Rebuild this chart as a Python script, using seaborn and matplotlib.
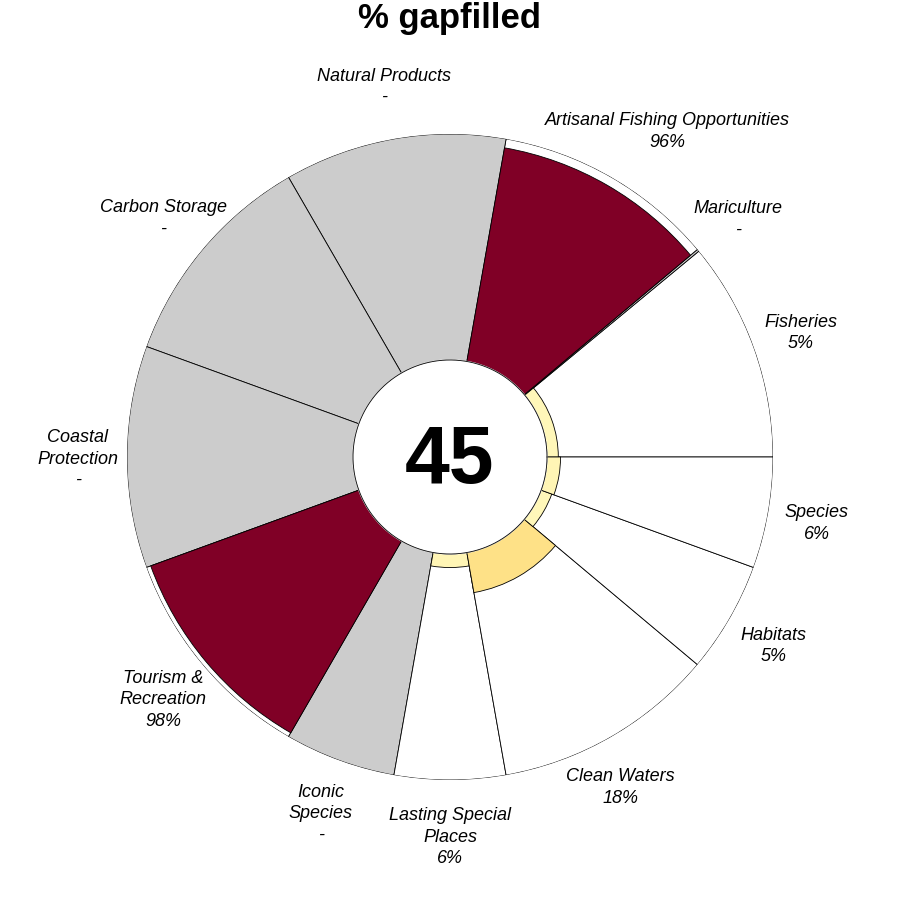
import numpy as np
import matplotlib
matplotlib.use("Agg")
import matplotlib.pyplot as plt
import seaborn as sns
from matplotlib.colors import Normalize

# ---- data ----
goals = ["Fisheries", "Mariculture", "Artisanal Fishing Opportunities",
         "Natural Products", "Carbon Storage", "Coastal\nProtection",
         "Tourism &\nRecreation", "Iconic\nSpecies", "Lasting Special\nPlaces",
         "Clean Waters", "Habitats", "Species"]
gapfilled = [5, None, 96, None, None, None, 98, None, 6, 18, 5, 6]
weights = [0.99, 0.01, 1, 1, 1, 1, 1, 0.5, 0.5, 1, 0.5, 0.5]
overall = 45
title = "% gapfilled"

sns.set_style("white")
plt.rcParams['font.family'] = ['Liberation Sans', 'DejaVu Sans']
plt.rcParams['text.color'] = 'black'

fig = plt.figure(figsize=(9, 9), dpi=100)
R_px = 323
cx, cy = 450, 900 - 457
ax = fig.add_axes([(cx - R_px) / 900, (cy - R_px) / 900, 2 * R_px / 900, 2 * R_px / 900],
                  projection='polar')
ax.set_ylim(0, 1)
ax.set_xticks([]); ax.set_yticks([])
ax.grid(False)
ax.spines['polar'].set_visible(False)
ax.set_facecolor('none')

r0 = 97 / R_px
w = np.array(weights, dtype=float)
widths = np.deg2rad(w / w.sum() * 360)
starts = np.concatenate([[0], np.cumsum(widths)[:-1]])
mids = starts + widths / 2

cmap = plt.get_cmap('YlOrRd')
norm = Normalize(0, 90, clip=True)
lw = 0.6

for s, wd, v in zip(starts, widths, gapfilled):
    face = '#CCCCCC' if v is None else 'white'
    ax.bar(s, 1 - r0, width=wd, bottom=r0, align='edge', color=face,
           edgecolor='black', linewidth=lw, zorder=1)
for s, wd, v in zip(starts, widths, gapfilled):
    if v is None:
        continue
    ax.bar(s, (1 - r0) * v / 100, width=wd, bottom=r0, align='edge',
           color=cmap(norm(v)), edgecolor='black', linewidth=lw, zorder=2)

th = np.linspace(0, 2 * np.pi, 400)
ax.fill(th, np.full_like(th, r0), color='white', zorder=3)
ax.plot(th, np.full_like(th, r0), color='black', lw=lw, zorder=4)

ax.annotate(str(overall), (0, 0), xytext=(0, -3.5), textcoords='offset points',
            ha='center', va='center', fontsize=58, fontweight='bold', zorder=5)

# label ring (slightly elliptical) and small nudges for a few labels (points)
a_lab, b_lab = 372 / R_px, 378 / R_px
nudges = {2: (21, 1), 9: (-13, -1.7)}
for i, (m, g, v) in enumerate(zip(mids, goals, gapfilled)):
    lab = g + "\n" + ("-" if v is None else f"{v}%")
    rl = 1 / np.sqrt((np.cos(m) / a_lab) ** 2 + (np.sin(m) / b_lab) ** 2)
    dx, dy = nudges.get(i, (0, 0))
    ax.annotate(lab, (m, rl), xytext=(dx, dy - 1.5), textcoords='offset points',
                ha='center', va='center', fontsize=13, fontstyle='italic',
                linespacing=1.35, annotation_clip=False)

fig.text(0.5, 1 - 28 / 900, title, ha='center', va='baseline', fontsize=25,
         fontweight='bold')

fig.savefig('out.png', dpi=100, facecolor='white')
